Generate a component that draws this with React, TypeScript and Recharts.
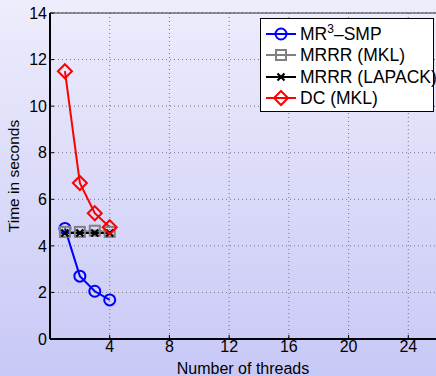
import { LineChart, Line, XAxis, YAxis, CartesianGrid, Legend, ReferenceLine } from 'recharts';

const threads = [1, 2, 3, 4];
const mr3Smp = [4.75, 2.7, 2.05, 1.68];
const mrrrMkl = [4.6, 4.6, 4.65, 4.6];
const mrrrLapack = [4.55, 4.55, 4.55, 4.55];
const dcMkl = [11.5, 6.7, 5.4, 4.8];
const xTicks = [4, 8, 12, 16, 20, 24];
const yTicks = [0, 2, 4, 6, 8, 10, 12, 14];

const data = threads.map((t, i) => ({
  t,
  mr3: mr3Smp[i],
  mkl: mrrrMkl[i],
  lapack: mrrrLapack[i],
  dc: dcMkl[i],
}));

const font = 'Liberation Sans, Arial, sans-serif';

function Marker({ kind, cx, cy, color }: { kind: string; cx: number; cy: number; color: string }) {
  if (kind === 'circle') return <circle cx={cx} cy={cy} r={5.5} fill="none" stroke={color} strokeWidth={2} />;
  if (kind === 'square')
    return <rect x={cx - 5} y={cy - 5} width={10} height={10} fill="none" stroke={color} strokeWidth={2} />;
  if (kind === 'x')
    return (
      <path d={`M${cx - 3.5},${cy - 3.5}L${cx + 3.5},${cy + 3.5}M${cx - 3.5},${cy + 3.5}L${cx + 3.5},${cy - 3.5}`} stroke={color} strokeWidth={2.2} />
    );
  return (
    <path d={`M${cx},${cy - 7}L${cx + 7},${cy}L${cx},${cy + 7}L${cx - 7},${cy}Z`} fill="none" stroke={color} strokeWidth={2} />
  );
}

const series = [
  { key: 'mr3', color: '#0000ff', kind: 'circle', label: 'MR3' },
  { key: 'mkl', color: '#808080', kind: 'square', label: 'MRRR (MKL)' },
  { key: 'lapack', color: '#000000', kind: 'x', label: 'MRRR (LAPACK)' },
  { key: 'dc', color: '#ff0000', kind: 'diamond', label: 'DC (MKL)' },
];

function LegendBox() {
  return (
    <div
      style={{
        background: '#fff',
        border: '1px solid #000',
        width: 174,
        padding: '4px 0 2px 4px',
        boxSizing: 'border-box',
        fontFamily: font,
        fontSize: 17.5,
        color: '#000',
      }}
    >
      {series.map((s) => (
        <div key={s.key} style={{ display: 'flex', alignItems: 'center', height: 21.5 }}>
          <svg width={32} height={20} style={{ flexShrink: 0 }}>
            <line x1={1} y1={10} x2={31} y2={10} stroke={s.color} strokeWidth={2} />
            <Marker kind={s.kind} cx={16} cy={10} color={s.color} />
          </svg>
          <span style={{ marginLeft: 3, whiteSpace: 'nowrap', lineHeight: '20px' }}>
            {s.key === 'mr3' ? (
              <>
                MR<sup style={{ fontSize: 12, verticalAlign: 'top', lineHeight: '10px' }}>3</sup>–SMP
              </>
            ) : (
              s.label
            )}
          </span>
        </div>
      ))}
    </div>
  );
}

export default function App() {
  return (
    <div
      style={{
        position: 'absolute',
        left: 0,
        top: 0,
        width: 436,
        height: 376,
        overflow: 'hidden',
        background: 'linear-gradient(to bottom, #ededfc, #c8c8f7)',
      }}
    >
      <LineChart width={468} height={376} data={data} margin={{ top: 13, right: 0, left: 0, bottom: 0 }}>
        <CartesianGrid stroke="#777" strokeDasharray="1 3" strokeWidth={1} />
        <XAxis
          dataKey="t"
          type="number"
          domain={[0, 28]}
          ticks={xTicks}
          height={37}
          tickSize={-4}
          tickLine={{ stroke: '#000', strokeWidth: 1 }}
          axisLine={{ stroke: '#000', strokeWidth: 2 }}
          tick={{ fontSize: 16, fill: '#000', fontFamily: font }}
          tickMargin={6}
          label={{ value: 'Number of threads', position: 'insideBottom', offset: 2, fontSize: 16, fill: '#000', fontFamily: font, dx: -16 }}
        />
        <YAxis
          type="number"
          domain={[0, 14]}
          ticks={yTicks}
          width={50}
          tickSize={-4}
          tickLine={{ stroke: '#000', strokeWidth: 1 }}
          axisLine={{ stroke: '#000', strokeWidth: 2 }}
          tick={{ fontSize: 16, fill: '#000', fontFamily: font }}
          tickMargin={7}
          label={{ value: 'Time in seconds', angle: -90, position: 'insideLeft', offset: 13, fontSize: 15.5, fill: '#000', fontFamily: font, style: { textAnchor: 'middle' } }}
        />
        <ReferenceLine y={14} stroke="#333" strokeWidth={1} />
        {series.map((s) => (
          <Line
            key={s.key}
            dataKey={s.key}
            stroke={s.color}
            strokeWidth={2}
            isAnimationActive={false}
            dot={(p: any) => <Marker key={`${s.key}-${p.index}`} kind={s.kind} cx={p.cx} cy={p.cy} color={s.color} />}
            activeDot={false}
          />
        ))}
        <Legend
          layout="horizontal"
          verticalAlign="middle"
          align="center"
          content={() => <LegendBox />}
          wrapperStyle={{ position: 'absolute', top: 18, left: 260, width: 174 }}
        />
      </LineChart>
    </div>
  );
}
